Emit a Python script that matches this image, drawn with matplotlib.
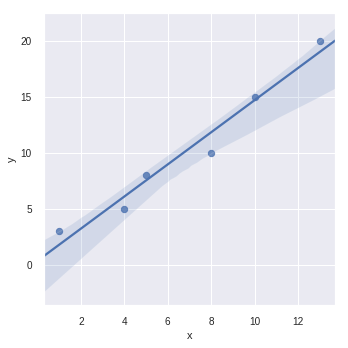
import numpy as np
import pandas as pd
import matplotlib
matplotlib.use("Agg")
import matplotlib.pyplot as plt
import seaborn as sns

# data points
x = [1, 4, 5, 8, 10, 13]
y = [3, 5, 8, 10, 15, 20]
df = pd.DataFrame({"x": x, "y": y})

sns.set_theme(style="darkgrid")
plt.rcParams['font.family'] = ['Liberation Sans', 'DejaVu Sans']
plt.rcParams['font.size'] = 10

fig = plt.figure(figsize=(348 / 72, 348 / 72), dpi=72)
ax = fig.add_axes([44 / 348, 43 / 348, 291 / 348, 292 / 348])
ax.set_xlim(0.3, 13.7)
ax.set_ylim(-3.6, 22.5)

sns.regplot(data=df, x="x", y="y", ax=ax, truncate=False, seed=3,
            color="#4C72B0", scatter_kws={"s": 40})

ax.set_xlim(0.3, 13.7)
ax.set_ylim(-3.6, 22.5)
ax.set_xticks([2, 4, 6, 8, 10, 12])
ax.set_yticks([0, 5, 10, 15, 20])
ax.tick_params(labelsize=10, colors="#262626", pad=6)
ax.set_xlabel("x", fontsize=11, color="#262626")
ax.set_ylabel("y", fontsize=11, color="#262626")

fig.savefig("out.png", dpi=72)
